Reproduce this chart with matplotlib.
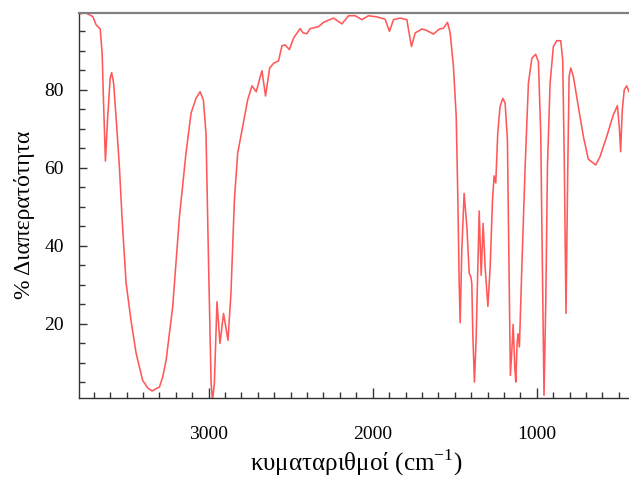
import matplotlib
matplotlib.use("Agg")
import matplotlib.pyplot as plt
import numpy as np
from matplotlib.ticker import MultipleLocator

plt.rcParams['font.family'] = ['Liberation Serif', 'DejaVu Serif']
plt.rcParams['mathtext.fontset'] = 'custom'
plt.rcParams['mathtext.rm'] = 'Liberation Serif'

# wavenumber (cm-1) and % transmittance
wavenumber = [3787, 3747, 3706, 3686, 3661, 3649, 3641, 3629, 3615, 3600, 3591, 3579, 3560, 3544,
              3527, 3503, 3473, 3442, 3402, 3371, 3345, 3320, 3300, 3280, 3259, 3219, 3178, 3138,
              3107, 3077, 3052,
              3032, 3016, 3000, 2985, 2976, 2965, 2949, 2931, 2909, 2882, 2864, 2843, 2823, 2793,
              2762, 2736, 2710, 2675, 2653, 2628, 2604, 2574, 2553, 2533, 2508, 2482, 2442, 2425,
              2401, 2381, 2330, 2300, 2239, 2188, 2147, 2107, 2066, 2026, 1974, 1924, 1898, 1873,
              1833, 1792, 1764, 1741, 1700, 1670, 1630, 1593, 1569, 1544, 1528, 1508, 1491, 1481,
              1473, 1467, 1457, 1443, 1426, 1412, 1402, 1396, 1390, 1380, 1370, 1359, 1351, 1339,
              1327, 1315, 1298, 1284, 1270, 1260, 1250, 1238, 1224, 1207, 1193, 1179, 1169, 1161,
              1152, 1144, 1134, 1128, 1120, 1114, 1106, 1091, 1071, 1051, 1030, 1007, 990, 976,
              966, 956, 945, 935, 919, 899, 878, 854, 842, 832, 822, 811, 803, 793, 777, 747, 716,
              686, 665, 641, 615, 574, 534, 509, 497, 489, 479, 467, 452, 438]
transmittance = [99.5, 99.7, 98.8, 96.7, 95.6, 89.5, 77.4, 61.7, 73.1, 83.0, 84.4, 81.7, 70.5, 60.3,
                 46.6, 30.4, 20.8, 12.4, 5.4, 3.5, 2.7, 3.3, 3.7, 6.3, 10.6, 24.3, 47.4, 63.7,
                 74.0, 77.8, 79.5,
                 77.4, 68.8, 34.6, 4.7, 0.3, 4.7, 25.6, 14.9, 22.6, 15.7, 27.7, 51.7, 63.7, 70.5,
                 77.4, 81.0, 79.5, 84.9, 78.4, 85.6, 86.8, 87.4, 91.3, 91.5, 90.3, 93.3, 95.7, 94.6,
                 94.4, 95.7, 96.2, 97.3, 98.4, 96.9, 99.0, 99.0, 98.0, 99.0, 98.7, 98.1, 95.0, 98.0,
                 98.4, 98.0, 91.1, 94.6, 95.6, 95.2, 94.3, 95.6, 95.8, 97.3, 94.6, 86.0, 73.1, 51.7,
                 30.3, 20.2, 38.8, 53.4, 44.8, 32.9, 32.0, 30.3, 17.4, 5.0, 15.7, 34.6, 48.9, 32.4,
                 45.7, 34.6, 24.4, 34.6, 51.7, 57.9, 56.1, 68.8, 75.7, 77.8, 76.6, 67.1, 34.6, 6.7,
                 13.1, 19.8, 8.8, 5.0, 14.9, 17.4, 14.0, 34.6, 60.3, 81.7, 88.1, 89.1, 87.2, 68.9,
                 34.6, 1.6, 26.0, 60.3, 81.7, 91.1, 92.6, 92.6, 87.7, 60.3, 22.6, 60.3, 83.4, 85.6,
                 83.4, 75.7, 68.0, 62.2, 61.5, 60.7, 62.8, 68.0, 73.5, 75.9, 70.5, 64.1, 74.8, 80.0,
                 81.0, 79.5]

x_major = [3000, 2000, 1000]
y_major = [20, 40, 60, 80]

fig = plt.figure(figsize=(6.29, 4.80), dpi=100)
ax = fig.add_axes([0.1256, 0.1708, 0.8744, 0.8021])
ax.plot(wavenumber, transmittance, color='#ff3b3b', lw=1.15, alpha=0.85)
ax.set_xlim(3790, 438)
ax.set_ylim(0.9, 99.7)

ax.xaxis.set_minor_locator(MultipleLocator(100))
ax.yaxis.set_minor_locator(MultipleLocator(5))
ax.set_xticks(x_major)
ax.set_yticks(y_major)

ax.tick_params(axis='both', which='both', direction='in', color='#333333', labelsize=14)
ax.tick_params(axis='x', which='major', length=7, width=1, pad=20)
ax.tick_params(axis='x', which='minor', length=4, width=1)
ax.tick_params(axis='y', which='major', length=6, width=1, pad=11)
ax.tick_params(axis='y', which='minor', length=4, width=1)

for s in ['left', 'bottom']:
    ax.spines[s].set_color('#333333')
    ax.spines[s].set_linewidth(1.0)
ax.spines['top'].set_color('#808080')
ax.spines['top'].set_linewidth(1.6)
ax.spines['right'].set_visible(False)

ax.set_xlabel('κυματαριθμοί (cm$^{-1}$)', fontsize=18)
ax.xaxis.set_label_coords(0.5045, -0.128)
ax.set_ylabel('% Διαπερατότητα', fontsize=17)
ax.yaxis.set_label_coords(-0.08, 0.475)

fig.savefig('out.png', dpi=100)
